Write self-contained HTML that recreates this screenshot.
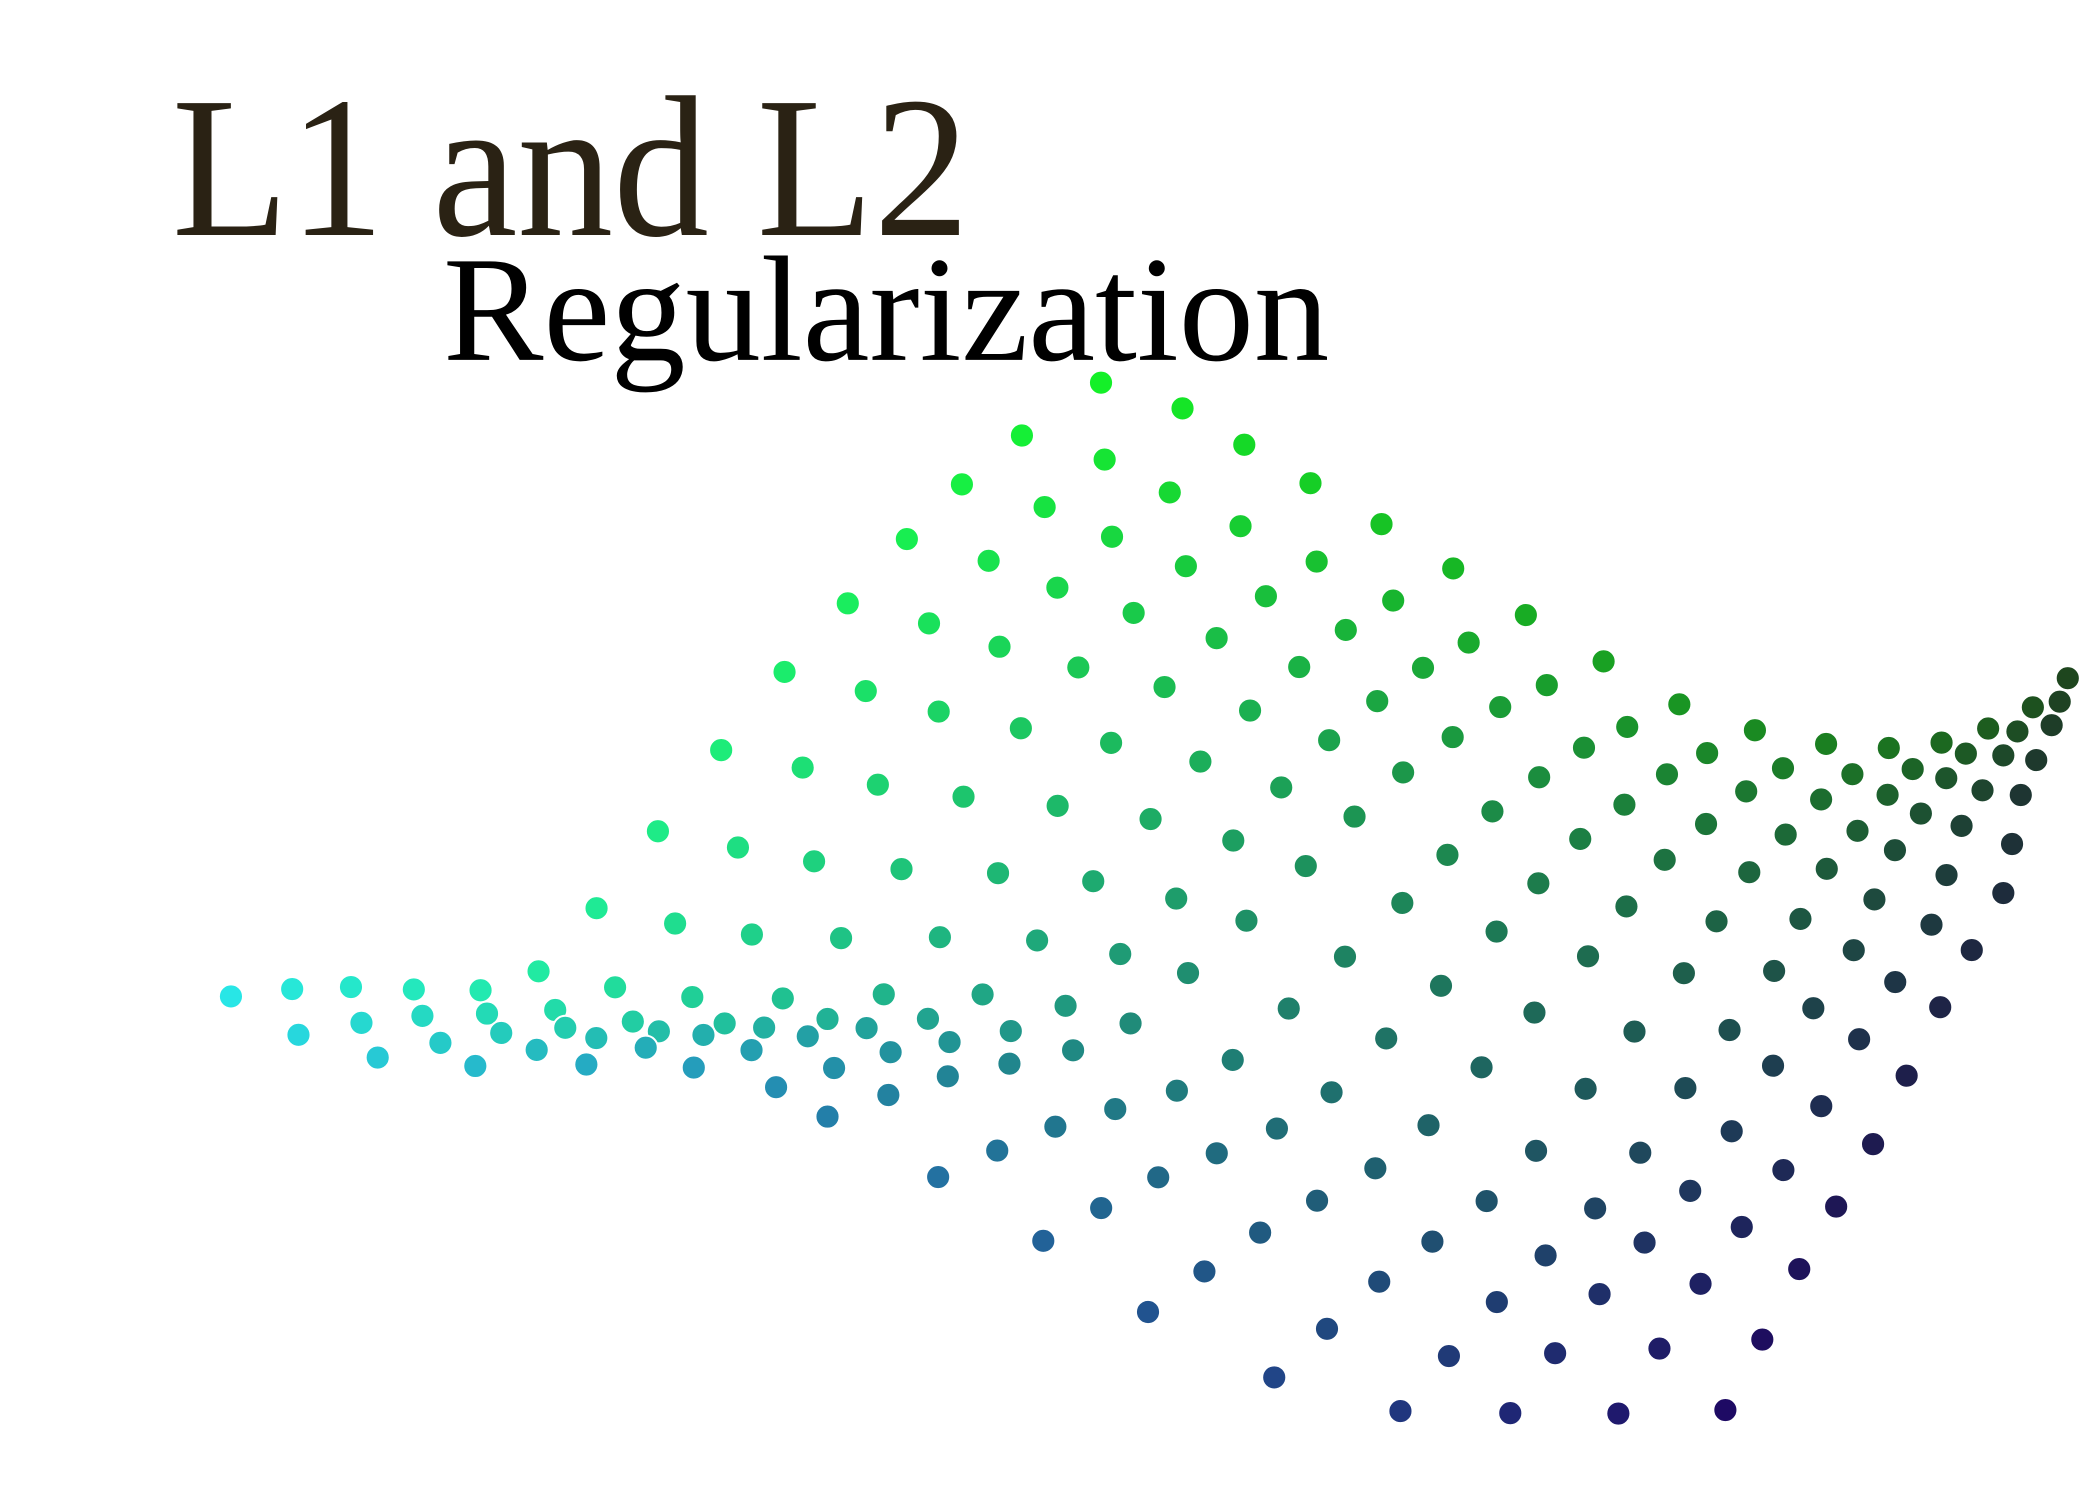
<!DOCTYPE html>
<html><head><meta charset="utf-8"><style>
html,body{margin:0;padding:0;background:#fff;width:2100px;height:1500px;overflow:hidden}
svg{display:block}
</style></head><body>
<svg id="chart" width="2100" height="1500" viewBox="0 0 1564 1117" preserveAspectRatio="none" xmlns="http://www.w3.org/2000/svg">
<rect width="1564" height="1117" fill="#fff"/>
<text x="128" y="175" font-family="Liberation Serif, serif" font-size="150" fill="#2a2214" textLength="594" lengthAdjust="spacingAndGlyphs">L1 and L2</text>
<text x="330" y="268" font-family="Liberation Serif, serif" font-size="112" fill="#000" textLength="660" lengthAdjust="spacingAndGlyphs">Regularization</text>
<g id="dots"></g>
</svg>
<script>
// edge curves of the dotted surface (display units)
const topRightEdgeX = [820,890,940,1000,1062,1123,1190,1255,1320,1380,1430,1470,1510,1540];
const topRightEdgeY = [285,307,340,373,410,450,490,527,548,557,557,547,530,505];
const topLeftEdgeX = [820,745,695,640,580,520,460,405,350,285,230,172];
const topLeftEdgeY = [285,335,380,440,505,580,658,722,740,735,735,742];
const bottomEdgeX = [172,230,300,390,490,570,610,705,795,885,1005,1100,1193,1285];
const bottomEdgeY = [742,775,792,795,790,805,828,880,935,998,1050,1052,1053,1050];
const rightEdgeX = [1540,1528,1505,1492,1445,1395,1340,1285];
const rightEdgeY = [505,540,592,665,750,852,945,1050];
const uCount = 16, vCount = 15;
const cornerColors = {T:[20,240,40], R:[30,70,30], L:[40,230,230], B:[30,10,100]};

function sample(xs, ys, t){
  const f = t*(xs.length-1), i = Math.min(Math.floor(f), xs.length-2), r = f-i;
  return [xs[i]+(xs[i+1]-xs[i])*r, ys[i]+(ys[i+1]-ys[i])*r];
}
const T=[topRightEdgeX[0],topRightEdgeY[0]], R=[rightEdgeX[0],rightEdgeY[0]];
const L=[bottomEdgeX[0],bottomEdgeY[0]], B=[rightEdgeX[rightEdgeX.length-1],rightEdgeY[rightEdgeY.length-1]];
const g = document.getElementById('dots');
const NS='http://www.w3.org/2000/svg';
for(let a=0;a<uCount;a++){
  for(let b=0;b<vCount;b++){
    const u=a/(uCount-1), v=b/(vCount-1);
    const c0=sample(topRightEdgeX,topRightEdgeY,u), c1=sample(bottomEdgeX,bottomEdgeY,u);
    const d0=sample(topLeftEdgeX,topLeftEdgeY,v), d1=sample(rightEdgeX,rightEdgeY,v);
    const p=[0,1].map(k=>(1-v)*c0[k]+v*c1[k]+(1-u)*d0[k]+u*d1[k]
      -((1-u)*(1-v)*T[k]+u*(1-v)*R[k]+(1-u)*v*L[k]+u*v*B[k]));
    const col=[0,1,2].map(k=>Math.round((1-u)*(1-v)*cornerColors.T[k]+u*(1-v)*cornerColors.R[k]+(1-u)*v*cornerColors.L[k]+u*v*cornerColors.B[k]));
    const c=document.createElementNS(NS,'circle');
    c.setAttribute('cx',p[0].toFixed(1));
    c.setAttribute('cy',p[1].toFixed(1));
    c.setAttribute('r','9');
    c.setAttribute('fill','rgb('+col.join(',')+')');
    c.setAttribute('stroke','#fff');
    c.setAttribute('stroke-width','1.5');
    
    
    g.appendChild(c);
  }
}
</script>
</body></html>
